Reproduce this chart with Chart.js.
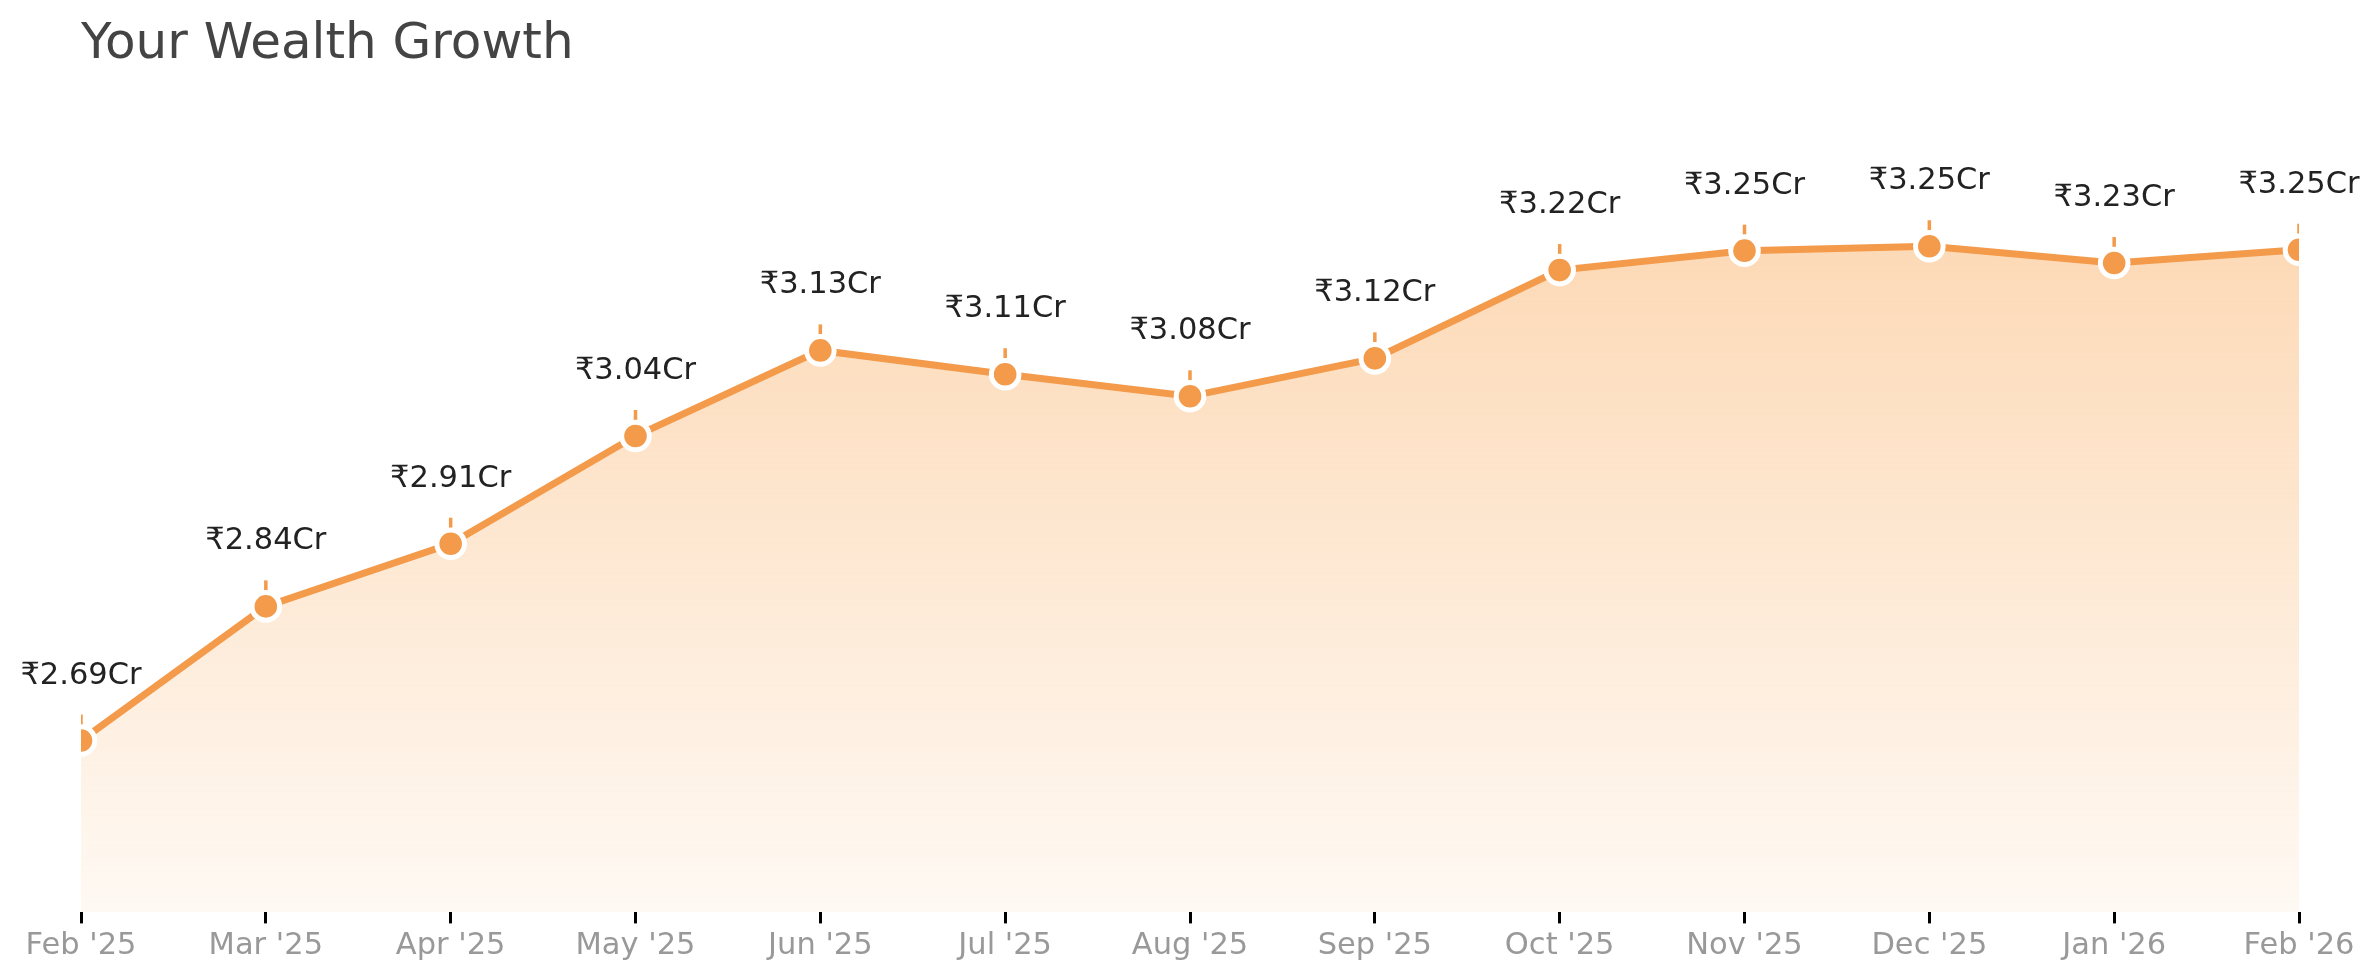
<!DOCTYPE html>
<html>
<head>
<meta charset="utf-8">
<title>Your Wealth Growth</title>
<script src="https://cdn.jsdelivr.net/npm/chart.js@4.4.1/dist/chart.umd.min.js"></script>
<style>
  html, body { margin: 0; padding: 0; background: #ffffff; }
  #wrap { width: 2379px; height: 979px; }
</style>
</head>
<body>
<div id="wrap"><canvas id="wealthChart" width="2379" height="979"></canvas></div>
<script>
// months shown on the x axis
var months = ["Feb '25", "Mar '25", "Apr '25", "May '25", "Jun '25", "Jul '25", "Aug '25",
              "Sep '25", "Oct '25", "Nov '25", "Dec '25", "Jan '26", "Feb '26"];
// portfolio value in crore rupees
var wealthCr = [2.691, 2.843, 2.914, 3.036, 3.133, 3.106, 3.081, 3.124, 3.224, 3.246, 3.251, 3.232, 3.247];

var yMin = 2.4963;
var yMax = 3.3929;

var orange = '#F39A4B';
var font = "'DejaVu Sans', sans-serif";

// small vertical tick above each point, clipped to the plot like the line
var stemPlugin = {
    id: 'stems',
    beforeDatasetsDraw: function (chart) {
        var ctx = chart.ctx, area = chart.chartArea;
        var meta = chart.getDatasetMeta(0);
        ctx.save();
        ctx.beginPath();
        ctx.rect(area.left, 0, area.right - area.left, chart.height);
        ctx.clip();
        ctx.strokeStyle = orange;
        ctx.lineWidth = 3.5;
        meta.data.forEach(function (pt) {
            ctx.beginPath();
            ctx.moveTo(pt.x, pt.y);
            ctx.lineTo(pt.x, pt.y - 26);
            ctx.stroke();
        });
        ctx.restore();
    }
};

// value labels above the points
var valueLabels = {
    id: 'valueLabels',
    afterDatasetsDraw: function (chart) {
        var ctx = chart.ctx;
        var meta = chart.getDatasetMeta(0);
        ctx.save();
        ctx.font = '30.5px ' + font;
        ctx.fillStyle = '#222222';
        ctx.textAlign = 'center';
        ctx.textBaseline = 'alphabetic';
        meta.data.forEach(function (pt, i) {
            ctx.fillText('\u20B9' + wealthCr[i].toFixed(2) + 'Cr', pt.x, pt.y - 57);
        });
        ctx.restore();
    }
};

var ctx = document.getElementById('wealthChart').getContext('2d');
var chart = new Chart(ctx, {
    type: 'line',
    data: {
        labels: months,
        datasets: [{
            data: wealthCr,
            borderColor: orange,
            borderWidth: 7,
            pointBackgroundColor: orange,
            pointBorderColor: '#ffffff',
            pointBorderWidth: 5,
            pointRadius: 13.8,
            tension: 0,
            fill: 'start',
            clip: { left: 0, right: 0, top: false, bottom: 0 },
            backgroundColor: function (context) {
                var area = context.chart.chartArea;
                if (!area) return 'rgba(250,180,110,0.3)';
                var g = context.chart.ctx.createLinearGradient(0, area.top, 0, area.bottom);
                g.addColorStop(0, 'rgba(250,180,110,0.58)');
                g.addColorStop(1, 'rgba(250,180,110,0.08)');
                return g;
            }
        }]
    },
    options: {
        responsive: false,
        devicePixelRatio: 1,
        animation: false,
        events: [],
        layout: { padding: { left: 81, right: 80, top: 0, bottom: 11 } },
        plugins: {
            legend: { display: false },
            tooltip: { enabled: false },
            title: {
                display: true,
                text: 'Your Wealth Growth',
                align: 'start',
                color: '#444444',
                font: { family: font, size: 50, weight: 'normal', lineHeight: 1.2 },
                padding: { top: 15, bottom: 46 }
            }
        },
        scales: {
            x: {
                offset: false,
                border: { display: false },
                grid: {
                    display: true,
                    drawOnChartArea: false,
                    drawTicks: true,
                    tickLength: 11,
                    color: '#000000',
                    lineWidth: 3
                },
                ticks: {
                    color: '#999999',
                    padding: 4,
                    maxRotation: 0,
                    autoSkip: false,
                    font: { family: font, size: 30.5 }
                }
            },
            y: {
                display: false,
                min: yMin,
                max: yMax
            }
        }
    },
    plugins: [stemPlugin, valueLabels]
});
</script>
</body>
</html>
